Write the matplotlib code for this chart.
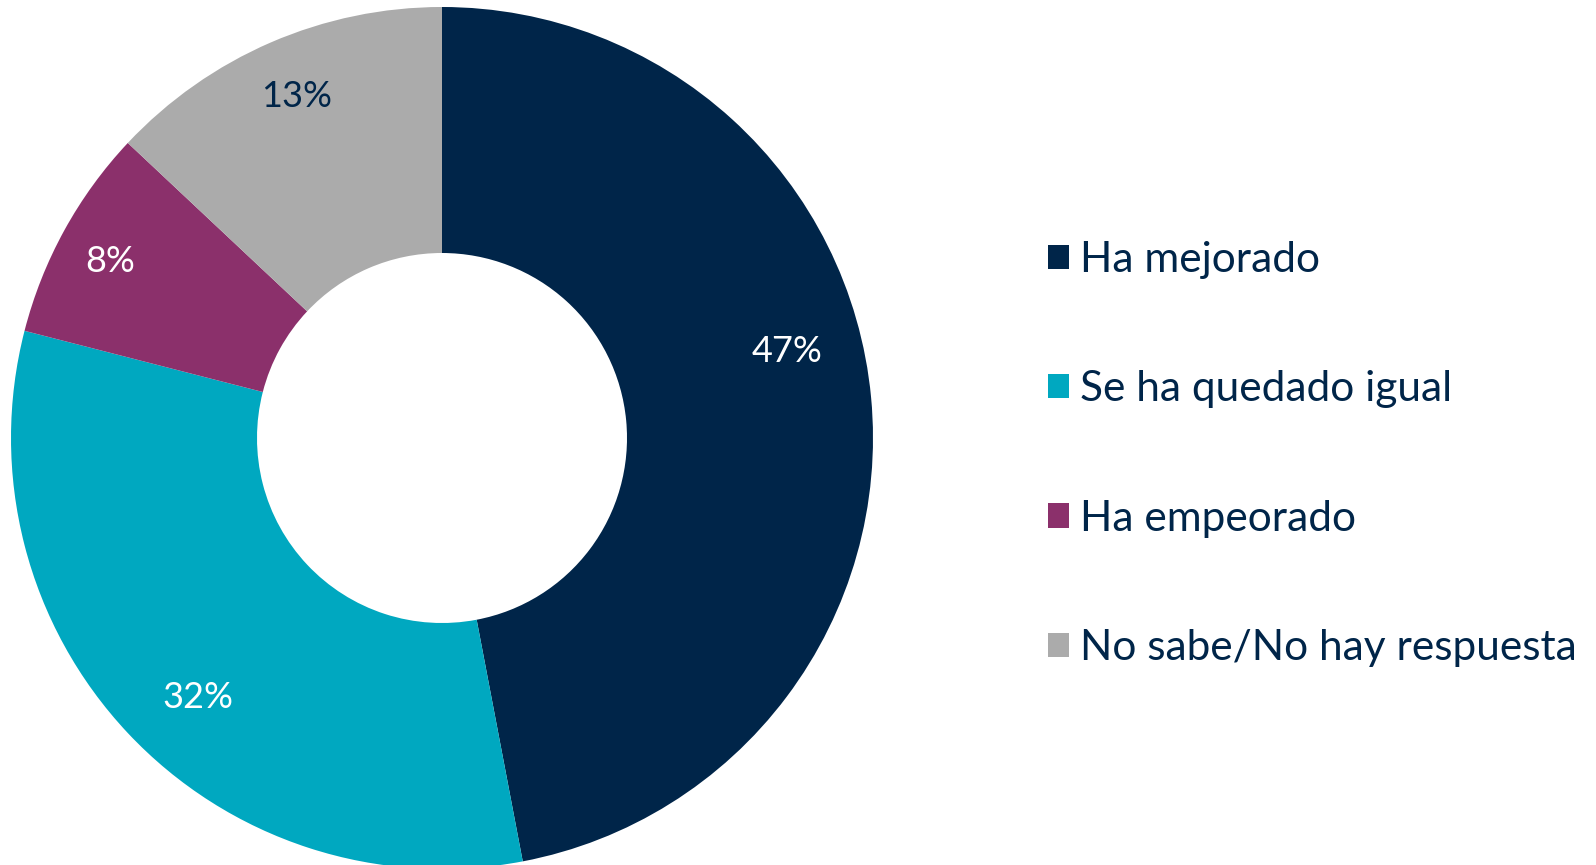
import matplotlib.pyplot as plt
import numpy as np

labels = ["Ha mejorado", "Se ha quedado igual", "Ha empeorado", "No sabe/No hay respuesta"]
values = [47, 32, 8, 13]
colors = ["#002549", "#00A8C0", "#8B306B", "#ABABAB"]
pct_colors = ["white", "white", "white", "#002549"]
# small manual nudges of the percentage labels (angle in degrees, radius as fraction)
nudge_deg = [8.6, 3.5, 0.8, -0.4]
nudge_r = [0.826, 0.826, 0.872, 0.861]

plt.rcParams['font.family'] = ['Lato', 'DejaVu Sans']

fig = plt.figure(figsize=(15.96, 8.65), dpi=100)
ax = fig.add_axes([0, 0, 1, 1])

R = 431
cx, cy = 442, 427
wedges, _ = ax.pie(values, colors=colors, startangle=90, counterclock=False,
                   radius=R, center=(cx, cy), frame=True,
                   wedgeprops=dict(width=R - 185, linewidth=0))
ax.set_xlim(0, 1596)
ax.set_ylim(0, 865)
ax.axis('off')

theta = 90.0
for v, c, da, fr in zip(values, pct_colors, nudge_deg, nudge_r):
    mid = np.deg2rad(theta - v / 100 * 180 + da)
    theta -= v / 100 * 360
    ax.text(cx + fr * R * np.cos(mid), cy + fr * R * np.sin(mid), f"{v}%",
            ha='center', va='center', fontsize=26, color=c)

fig.legend(wedges, labels, loc='center left', bbox_to_anchor=(1010 / 1596, 1 - 454 / 865),
           frameon=False, fontsize=30.5, handlelength=0.5, handleheight=0.5,
           handletextpad=0.25, labelspacing=2.15, labelcolor='#002549')

fig.savefig("out.png", dpi=100)
